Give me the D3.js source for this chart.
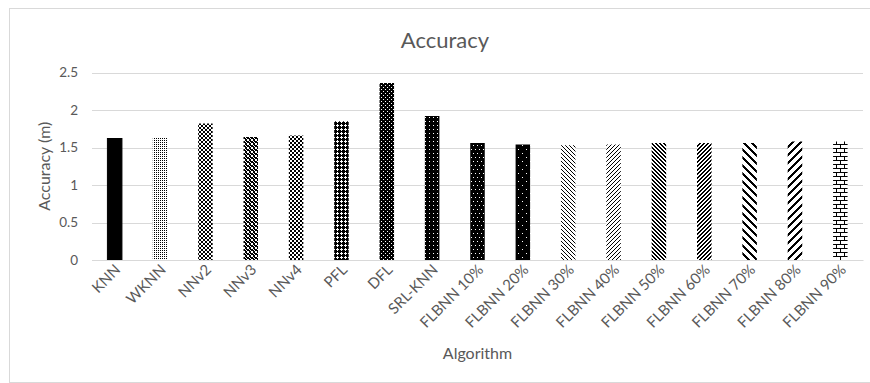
<!DOCTYPE html>
<html>
<head>
<meta charset="utf-8">
<script src="https://cdn.jsdelivr.net/npm/d3@7/dist/d3.min.js"></script>
<style>
  html, body { margin: 0; padding: 0; background: #fff; }
  svg { display: block; }
  text { font-family: Lato, "Open Sans", sans-serif; fill: #595959; }
</style>
</head>
<body>
<div id="chart"></div>
<script>
// Localisation accuracy per algorithm (metres)
const algorithms = ["KNN", "WKNN", "NNv2", "NNv3", "NNv4", "PFL", "DFL", "SRL-KNN",
  "FLBNN 10%", "FLBNN 20%", "FLBNN 30%", "FLBNN 40%", "FLBNN 50%",
  "FLBNN 60%", "FLBNN 70%", "FLBNN 80%", "FLBNN 90%"];
const accuracy = [1.62, 1.64, 1.82, 1.64, 1.66, 1.85, 2.36, 1.92,
  1.56, 1.54, 1.53, 1.54, 1.56, 1.56, 1.56, 1.58, 1.58];
const yTicks = [0, 0.5, 1, 1.5, 2, 2.5];

const chartTitle = "Accuracy";
const xTitle = "Algorithm";
const yTitle = "Accuracy (m)";

// Monochrome fill bitmaps for each bar (1 = black pixel), one per category
const fillBitmaps = [
  null, // solid
  ["1010", "0000", "1010", "0000"],
  ["1001", "0110", "0110", "1001"],
  ["0110", "1011", "1101", "0110"],
  ["1100", "1100", "0011", "0011"],
  ["1011", "0001", "1011", "1111"],
  ["1111", "1011", "1111", "1110"],
  ["1111", "1011", "1111", "1111"],
  ["11111111", "10111011", "11111111", "11111111", "11111111", "11101110", "11111111", "11111111"],
  ["11111111", "11011111", "11111111", "11111111", "11111111", "11111101", "11111111", "11111111"],
  ["1000", "0100", "0010", "0001"],
  ["0001", "0010", "0100", "1000"],
  ["1100", "0110", "0011", "1001"],
  ["0011", "0110", "1100", "1001"],
  ["11100000", "01110000", "00111000", "00011100", "00001110", "00000111", "10000011", "11000001"],
  ["00000111", "00001110", "00011100", "00111000", "01110000", "11100000", "11000001", "10000011"],
  ["11111111", "10000000", "10000000", "10000000", "11111111", "00001000", "00001000", "00001000"]
];

const W = 870, H = 383;
const margin = { left: 92, right: 7, top: 72.5, bottom: 123 };

const svg = d3.select("#chart").append("svg")
  .attr("width", W).attr("height", H);

const defs = svg.append("defs");
fillBitmaps.forEach((bits, i) => {
  if (!bits) return;
  const n = bits.length, m = bits[0].length;
  const p = defs.append("pattern")
    .attr("id", "fill" + i)
    .attr("patternUnits", "userSpaceOnUse")
    .attr("width", m).attr("height", n);
  p.append("rect").attr("width", m).attr("height", n).attr("fill", "#fff");
  bits.forEach((row, r) => {
    row.split("").forEach((c, k) => {
      if (c === "1") p.append("rect").attr("x", k).attr("y", r)
        .attr("width", 1).attr("height", 1).attr("fill", "#000");
    });
  });
});

// chart area border
svg.append("rect")
  .attr("x", 9.5).attr("y", 8.5)
  .attr("width", W).attr("height", H - 9)
  .attr("fill", "#fff").attr("stroke", "#d9d9d9").attr("stroke-width", 1);

const x = d3.scaleBand()
  .domain(algorithms)
  .range([margin.left, W - margin.right])
  .paddingInner(0.68)
  .paddingOuter(0.34);

const y = d3.scaleLinear()
  .domain([0, 2.5])
  .range([H - margin.bottom, margin.top]);

// horizontal gridlines
svg.append("g")
  .selectAll("line")
  .data(yTicks)
  .join("line")
  .attr("x1", margin.left).attr("x2", W - margin.right)
  .attr("y1", d => Math.round(y(d)) + 0.5).attr("y2", d => Math.round(y(d)) + 0.5)
  .attr("stroke", "#d9d9d9").attr("stroke-width", 1);

// y axis labels
const yAxis = d3.axisLeft(y).tickValues(yTicks).tickSize(0).tickPadding(14)
  .tickFormat(d3.format("~g"));
const gy = svg.append("g").attr("transform", `translate(${margin.left},0)`).call(yAxis);
gy.select(".domain").remove();
gy.selectAll("text").attr("font-size", 13.5).style("font-family", "Lato, sans-serif").attr("fill", "#595959");

// bars
svg.append("g")
  .selectAll("rect")
  .data(algorithms)
  .join("rect")
  .attr("x", d => x(d))
  .attr("width", x.bandwidth())
  .attr("y", (d, i) => y(accuracy[i]))
  .attr("height", (d, i) => y(0) - y(accuracy[i]))
  .attr("fill", (d, i) => fillBitmaps[i] ? `url(#fill${i})` : "#000")
  .attr("stroke", (d, i) => i === 0 ? "#000" : "none");

// x axis
const xAxis = d3.axisBottom(x).tickSize(0).tickPadding(6);
const gx = svg.append("g").attr("transform", `translate(0,${y(0)})`).call(xAxis);
gx.select(".domain").attr("stroke", "#d9d9d9");
gx.selectAll("text")
  .attr("font-size", 15)
  .style("font-family", "Lato, sans-serif")
  .attr("fill", "#595959")
  .attr("text-anchor", "end")
  .attr("dy", "0.35em")
  .attr("transform", "translate(3,7) rotate(-45)")
  .attr("x", 0).attr("y", 0);

// titles
svg.append("text")
  .attr("x", 445).attr("y", 48)
  .attr("text-anchor", "middle")
  .attr("font-size", 22)
  .text(chartTitle);

svg.append("text")
  .attr("x", (margin.left + W - margin.right) / 2).attr("y", 359)
  .attr("text-anchor", "middle")
  .attr("font-size", 16)
  .text(xTitle);

svg.append("text")
  .attr("transform", `translate(50,${(y(0) + y(2.5)) / 2}) rotate(-90)`)
  .attr("text-anchor", "middle")
  .attr("font-size", 16)
  .text(yTitle);
</script>
</body>
</html>
